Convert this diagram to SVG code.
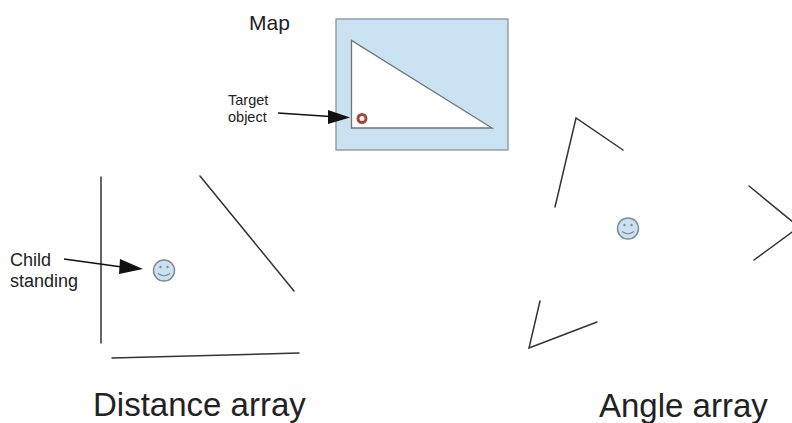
<svg xmlns="http://www.w3.org/2000/svg" width="792" height="423" viewBox="0 0 792 423">
<style>
text{font-family:"Liberation Sans",Arial,sans-serif;fill:#222}
.l{stroke:#333;stroke-width:1.5;fill:none;stroke-linecap:round}
.a{stroke:#111;stroke-width:1.4;fill:none}
.h{fill:#111}
.f{fill:#c9e1f0;stroke:#7f8c94;stroke-width:1.5}
.e{fill:#7f8c94}
.m{fill:none;stroke:#7f8c94;stroke-width:1.2}
</style>
<rect width="792" height="423" fill="#fff"/>
<g id="map">
<rect x="336" y="19" width="172" height="131" fill="#c9e1f0" stroke="#8a9296" stroke-width="1.3"/>
<path d="M351.500 40.500V128H492Z" fill="#fff" stroke="#6f7476" stroke-width="1.300"/>
<text x="249" y="30" font-size="21">Map</text>
</g>
<g id="target">
<circle cx="362" cy="118.500" r="4" fill="#fff" stroke="#a5483c" stroke-width="3"/>
<text x="228" y="105" font-size="14.500">Target</text>
<text x="228" y="122" font-size="14.500">object</text>
</g>
<g id="child-label">
<text x="10" y="266" font-size="18">Child</text>
<text x="10" y="287" font-size="18">standing</text>
</g>
<g id="distance-array">
<path class="l" d="M101 177V343M200 176L294 291M112 358L299 353"/>
<text x="93" y="416" font-size="33">Distance array</text>
</g>
<g id="distance-face">
<circle class="f" cx="164" cy="270.500" r="10.500"/>
<circle class="e" cx="160.500" cy="267" r="1.200"/><circle class="e" cx="167.500" cy="267" r="1.200"/>
<path class="m" d="M158 273.500Q164 278 170 273.500"/>
</g>
<g id="angle-array">
<path class="l" d="M555 207L576 118L623 150M749 186L799 227L754 260M597 322L529 348L540 301"/>
<text x="599" y="417" font-size="33">Angle array</text>
</g>
<g id="angle-face">
<circle class="f" cx="628" cy="228.500" r="10.500"/>
<circle class="e" cx="624.500" cy="225" r="1.200"/><circle class="e" cx="631.500" cy="225" r="1.200"/>
<path class="m" d="M622 231.500Q628 236 634 231.500"/>
</g>
<g id="connectors">
<path class="a" d="M278 113L330 116.500"/>
<path class="h" d="M328 110L350 117.500L328 124Z"/>
<path class="a" d="M64 259L122 267"/>
<path class="h" d="M120 259L143 269L119 274Z"/>
</g>
</svg>
